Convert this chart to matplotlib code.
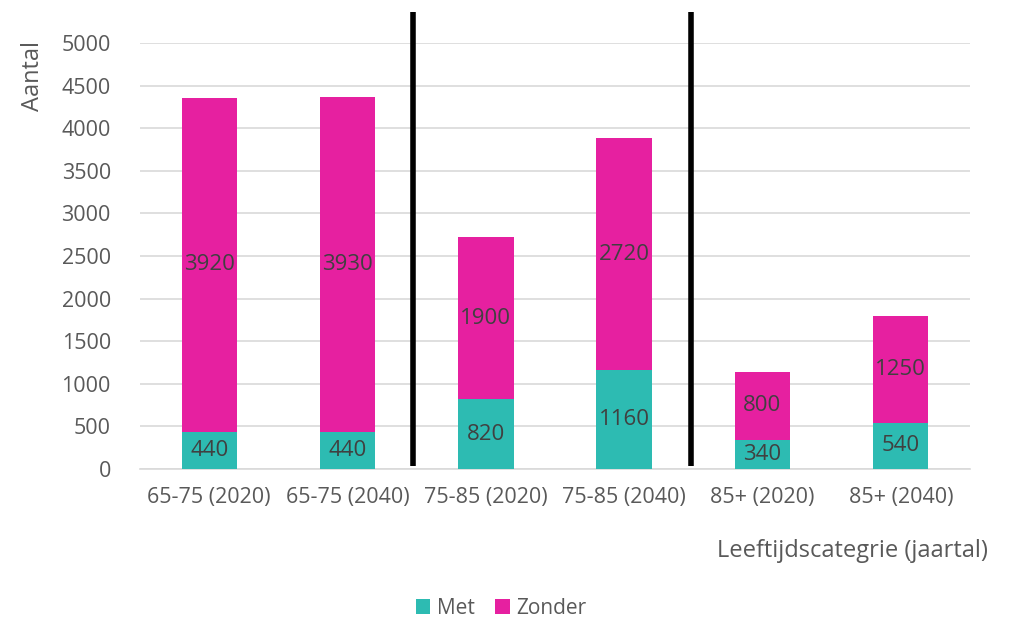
import matplotlib
matplotlib.use("Agg")
import matplotlib.pyplot as plt
import numpy as np

categories = ["65-75 (2020)", "65-75 (2040)", "75-85 (2020)", "75-85 (2040)", "85+ (2020)", "85+ (2040)"]
met = [440, 440, 820, 1160, 340, 540]
zonder = [3920, 3930, 1900, 2720, 800, 1250]
yticks = [0, 500, 1000, 1500, 2000, 2500, 3000, 3500, 4000, 4500, 5000]

plt.rcParams['font.family'] = ['Open Sans', 'DejaVu Sans']
teal = "#2DBBB2"
magenta = "#E620A0"
tick_col = "#595959"
lab_col = "#404040"

fig = plt.figure(figsize=(10.15, 6.19), dpi=100)
ax = fig.add_axes([140/1015, 1-469/619, 830/1015, 426/619])

x = np.arange(len(categories))
w = 0.4
b1 = ax.bar(x, met, w, color=teal, label="Met", zorder=3)
b2 = ax.bar(x, zonder, w, bottom=met, color=magenta, label="Zonder", zorder=3)

for xi, m, z in zip(x, met, zonder):
    ax.text(xi, m/2, str(m), ha="center", va="center", fontsize=16, color=lab_col, zorder=4)
    ax.text(xi, m + z/2, str(z), ha="center", va="center", fontsize=16, color=lab_col, zorder=4)

ax.set_xlim(-0.5, len(categories)-0.5)
ax.set_ylim(0, 5000)
ax.set_yticks(yticks)
ax.set_xticks(x)
ax.set_xticklabels(categories)
ax.grid(axis="y", color="#D9D9D9", linewidth=1.2, zorder=0)
for s in ["top", "right", "left"]:
    ax.spines[s].set_visible(False)
ax.spines["bottom"].set_color("#D9D9D9")
ax.spines["bottom"].set_linewidth(1.2)
ax.tick_params(axis="both", length=0, labelsize=15.5, colors=tick_col)
ax.tick_params(axis="x", pad=13)
ax.tick_params(axis="y", pad=21)

# separator lines
for xs in [1.47, 3.485]:
    ax.plot([xs, xs], [35, 5365], color="black", linewidth=4, clip_on=False, zorder=5, solid_capstyle="butt")

fig.text(988/1015, 1-551/619, "Leeftijdscategrie (jaartal)", ha="right", va="center", fontsize=17, color=tick_col)
fig.text(33/1015, 1-76/619, "Aantal", ha="center", va="center", rotation=90, fontsize=17, color=tick_col)

fig.legend(handles=[b1, b2], labels=["Met", "Zonder"], loc="center", bbox_to_anchor=(501/1015, 1-608/619),
           ncol=2, frameon=False, fontsize=15, labelcolor=tick_col, handlelength=0.7, handleheight=0.7,
           handletextpad=0.3, columnspacing=1.0)

fig.savefig("out.png", dpi=100)
